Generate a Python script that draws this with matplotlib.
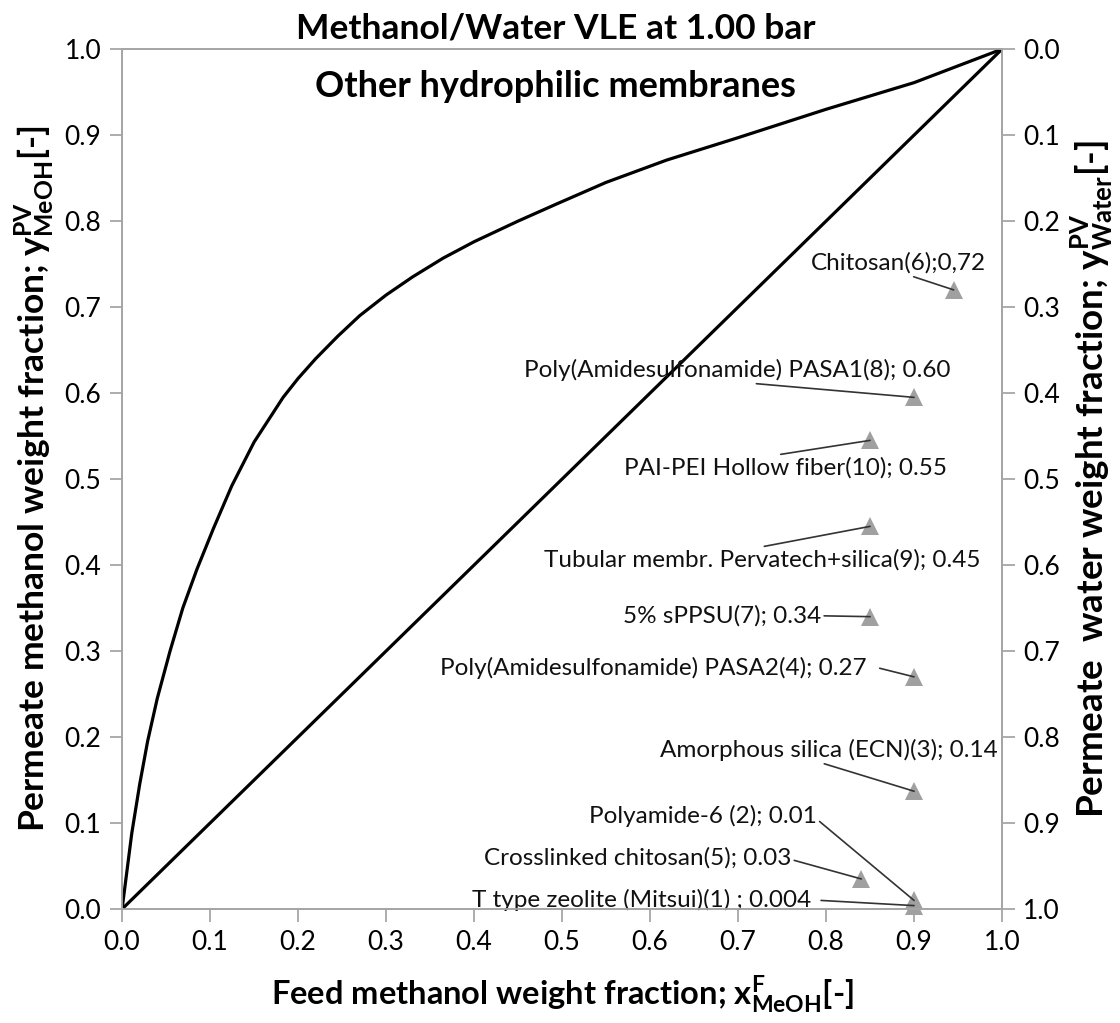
import matplotlib
matplotlib.use("Agg")
import matplotlib.pyplot as plt

plt.rcParams['font.family'] = ['Lato', 'DejaVu Sans']
plt.rcParams['mathtext.fontset'] = 'custom'
plt.rcParams['mathtext.rm'] = 'Lato'
plt.rcParams['mathtext.bf'] = 'Lato:bold'

# VLE curve (weight fractions)
vle_x = [0.0, 0.005, 0.011, 0.02, 0.029, 0.04, 0.0545, 0.069, 0.085, 0.104, 0.1246,
         0.15, 0.183, 0.2, 0.22, 0.245, 0.27, 0.3, 0.33, 0.365, 0.4, 0.45, 0.494,
         0.55, 0.619, 0.7, 0.8, 0.9, 1.0]
vle_y = [0.0, 0.04, 0.088, 0.145, 0.195, 0.245, 0.30, 0.35, 0.395, 0.443, 0.492,
         0.543, 0.595, 0.617, 0.64, 0.666, 0.69, 0.714, 0.735, 0.757, 0.776, 0.80, 0.82,
         0.845, 0.871, 0.897, 0.93, 0.961, 1.0]

# diagonal
diag_x = [0.0, 1.0]
diag_y = [0.0, 1.0]

# membrane data points
labels = ["Chitosan(6);0,72",
          "Poly(Amidesulfonamide) PASA1(8); 0.60",
          "PAI-PEI Hollow fiber(10); 0.55",
          "Tubular membr. Pervatech+silica(9); 0.45",
          "5% sPPSU(7); 0.34",
          "Poly(Amidesulfonamide) PASA2(4); 0.27",
          "Amorphous silica (ECN)(3); 0.14",
          "Polyamide-6 (2); 0.01",
          "Crosslinked chitosan(5); 0.03",
          "T type zeolite (Mitsui)(1) ; 0.004"]
feed_x = [0.945, 0.90, 0.85, 0.85, 0.85, 0.90, 0.90, 0.90, 0.84, 0.90]
perm_y = [0.72, 0.595, 0.545, 0.445, 0.34, 0.27, 0.137, 0.01, 0.035, 0.004]

# label layout (text centre in axes data coords, leader start relative to text box)
label_pos = [(0.882, 0.751), (0.699, 0.627), (0.754, 0.513), (0.728, 0.406),
             (0.682, 0.341), (0.604, 0.280), (0.803, 0.185), (0.660, 0.108),
             (0.586, 0.060), (0.590, 0.010)]
label_rel = [(0.54, 0.0), (0.47, 0.0), (0.43, 1.0), (0.47, 1.0), (1.0, 0.5),
             (1.03, 0.5), (0.46, 0.0), (0.99, 0.45), (1.0, 0.4), (1.03, 0.5)]

ticks = [0.0, 0.1, 0.2, 0.3, 0.4, 0.5, 0.6, 0.7, 0.8, 0.9, 1.0]

fig = plt.figure(figsize=(11.2, 10.23), dpi=100)
ax = fig.add_axes([0.109, 0.1114, 0.7857, 0.8406])

grey = '#a6a6a6'
ax.plot(vle_x, vle_y, color='black', lw=2.3, solid_joinstyle='round', zorder=3)
ax.plot(diag_x, diag_y, color='black', lw=2.3, zorder=3)
ax.plot(feed_x, perm_y, linestyle='none', marker='^', markersize=13,
        color='#a0a0a0', markeredgewidth=0, zorder=4, clip_on=False)

for lab, px, py, (tx, ty), rel in zip(labels, feed_x, perm_y, label_pos, label_rel):
    ax.annotate(lab, xy=(px, py), xytext=(tx, ty), textcoords='data',
                ha='center', va='center', fontsize=17.5, color='#111111',
                arrowprops=dict(arrowstyle='-', color='#333333', lw=1.2,
                                shrinkA=0, shrinkB=0, relpos=rel),
                annotation_clip=False, zorder=5)

ax.set_xlim(0, 1)
ax.set_ylim(0, 1)
ax.set_xticks(ticks)
ax.set_yticks(ticks)
ax.set_xticklabels([f"{t:.1f}" for t in ticks])
ax.set_yticklabels([f"{t:.1f}" for t in ticks])
for s in ax.spines.values():
    s.set_color(grey)
    s.set_linewidth(1.3)
ax.tick_params(direction='out', length=9, width=1.3, color=grey,
               labelsize=19, pad=6)

ax2 = ax.twinx()
ax2.set_ylim(1, 0)
ax2.set_yticks(ticks)
ax2.set_yticklabels([f"{t:.1f}" for t in ticks])
for s in ax2.spines.values():
    s.set_color(grey)
    s.set_linewidth(1.3)
ax2.tick_params(direction='out', length=9, width=1.3, color=grey,
                labelsize=19, pad=6)

ax.set_xlabel(r"Feed methanol weight fraction; $\mathbf{x^{F}_{MeOH}}$[-]",
              fontsize=23.5, fontweight='bold', labelpad=14)
ax.set_ylabel(r"Permeate methanol weight fraction; $\mathbf{y^{PV}_{MeOH}}$[-]",
              fontsize=25.5, fontweight='bold', labelpad=5)
ax2.set_ylabel(r"Permeate  water weight fraction; $\mathbf{y^{PV}_{Water}}$[-]",
               fontsize=26.5, fontweight='bold', labelpad=7, rotation=90)

fig.text(0.496, 0.972, "Methanol/Water VLE at 1.00 bar", ha='center', va='center',
         fontsize=25.5, fontweight='bold')
fig.text(0.496, 0.915, "Other hydrophilic membranes", ha='center', va='center',
         fontsize=26, fontweight='bold')

fig.savefig("out.png", dpi=100, facecolor='white')
